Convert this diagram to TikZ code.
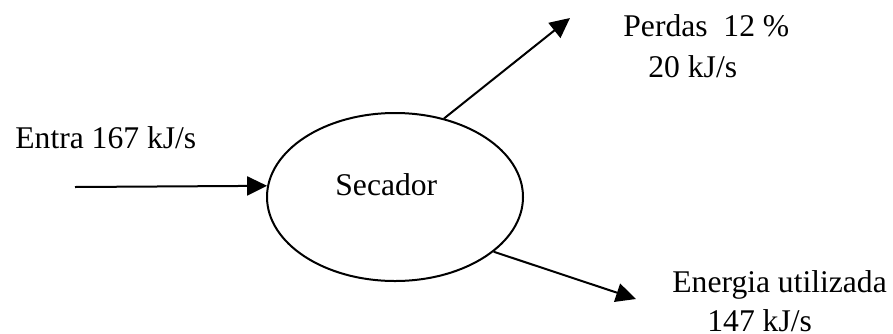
\documentclass[tikz,border=0pt]{standalone}
\usepackage{fontspec}
\setmainfont{Liberation Serif}
\usetikzlibrary{shapes.geometric,arrows.meta}
\begin{document}
\begin{tikzpicture}[x=0.5pt,y=-0.5pt,
  lbl/.style={anchor=base west,inner sep=0pt,font=\fontsize{15.8pt}{19pt}\selectfont},
  flow/.style={line width=1pt,-{Triangle[length=10pt,width=9.5pt]}},
  proc/.style={ellipse,draw,line width=1pt,minimum width=128pt,minimum height=84pt,inner sep=0pt}]
\useasboundingbox (0,0) rectangle (893,333);
\node[proc] (ell) at (395,197) {};
\node[lbl] (sec) at (335,195) {Secador};
\node[lbl] (entra) at (15,148) {Entra 167 kJ/s};
\node[lbl] (perdas) at (623,36) {Perdas\ \ 12 \%};
\node[lbl] (perdas2) at (648,77) {20 kJ/s};
\node[lbl] (util) at (672,292) {Energia utilizada};
\node[lbl] (util2) at (707,331) {147 kJ/s};
\coordinate (inS) at (75,187);
\coordinate (topE) at (570,18);
\coordinate (botE) at (636,299);
\draw[flow] (inS) -- (ell.175.5);
\draw[flow] (ell.58) -- (topE);
\draw[flow] (ell.-29.5) -- (botE);
\end{tikzpicture}
\end{document}
